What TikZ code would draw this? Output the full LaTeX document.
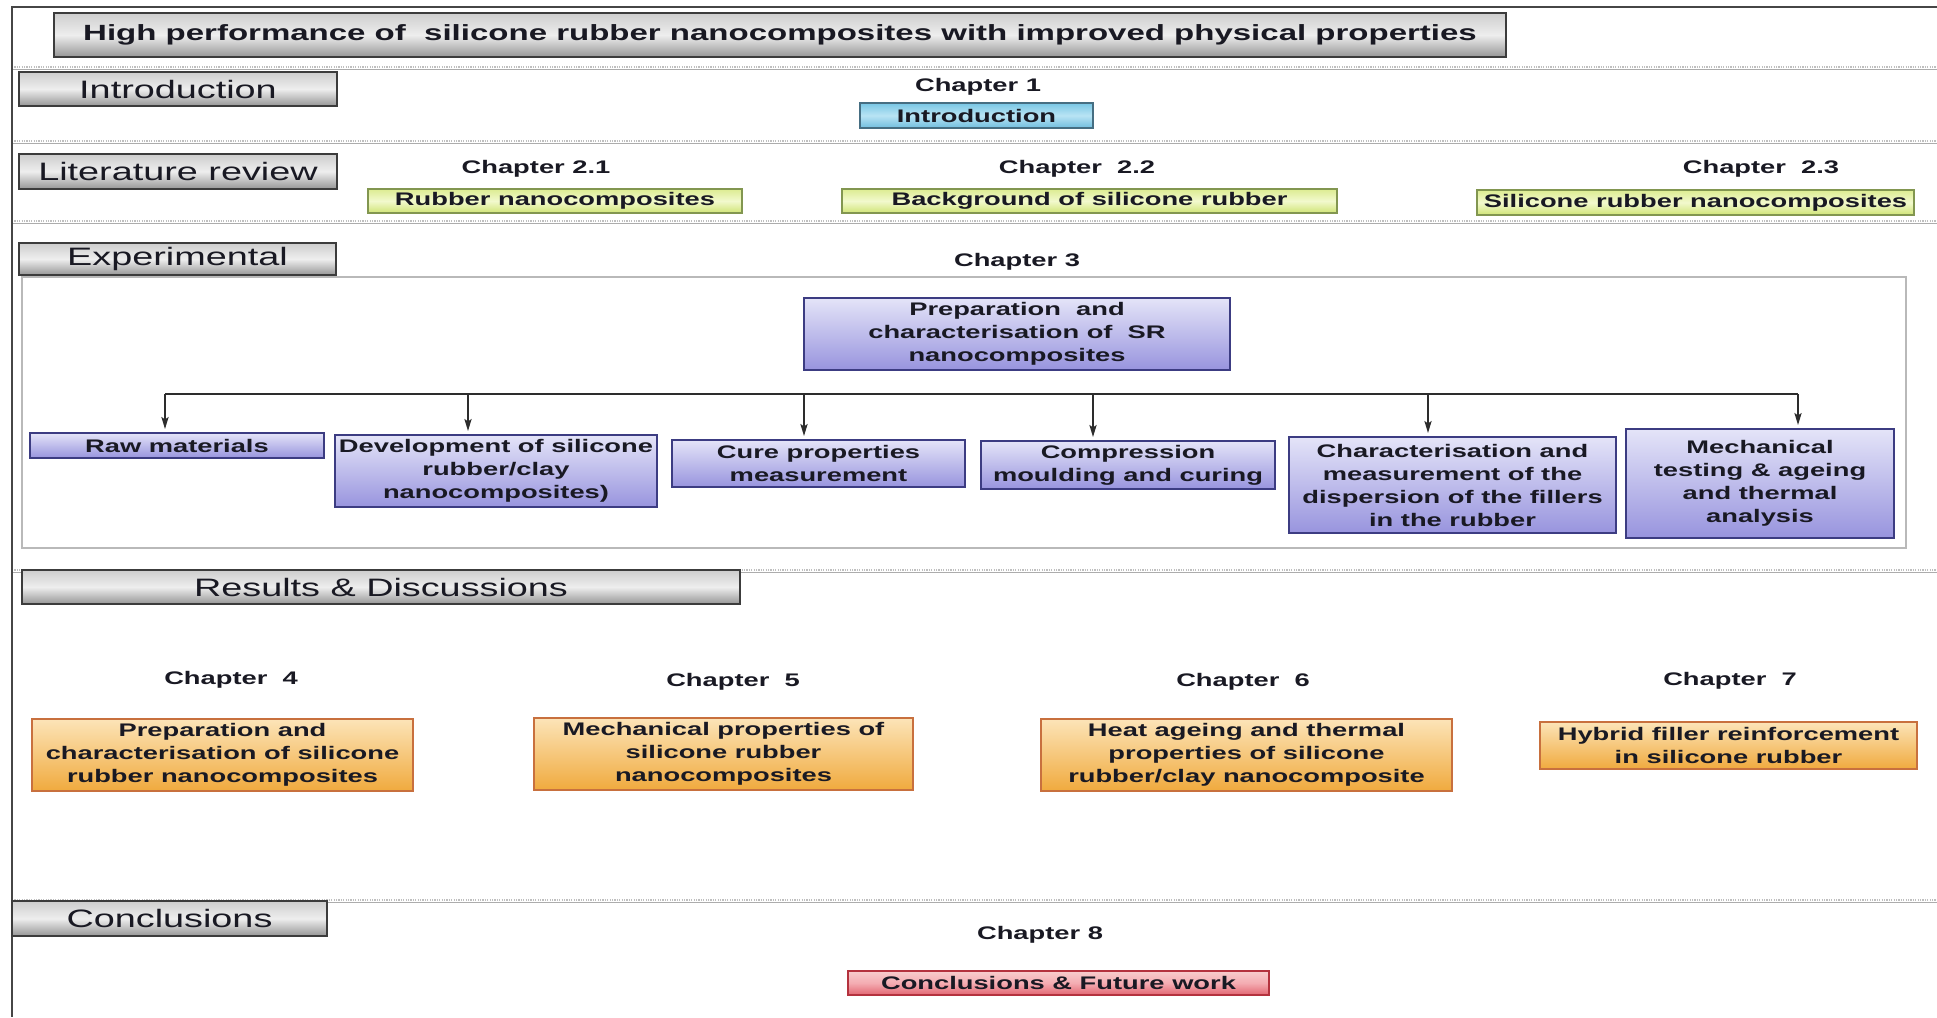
\documentclass[tikz,border=0pt]{standalone}
\usepackage{fontspec}
\setmainfont{Liberation Sans}[FakeStretch=1.5]
\usetikzlibrary{arrows.meta}
\definecolor{txt}{RGB}{25,25,35}
\definecolor{lblT}{RGB}{205,205,205}
\definecolor{lblM}{RGB}{238,238,238}
\definecolor{lblB}{RGB}{150,150,150}
\definecolor{lblD}{RGB}{60,60,60}
\definecolor{bluT}{RGB}{120,198,228}
\definecolor{bluM}{RGB}{185,228,244}
\definecolor{bluB}{RGB}{112,190,222}
\definecolor{bluD}{RGB}{70,110,130}
\definecolor{ylwT}{RGB}{220,236,145}
\definecolor{ylwM}{RGB}{242,249,205}
\definecolor{ylwB}{RGB}{208,228,118}
\definecolor{ylwD}{RGB}{130,150,80}
\definecolor{purT}{RGB}{228,228,248}
\definecolor{purB}{RGB}{152,148,222}
\definecolor{purD}{RGB}{60,60,130}
\definecolor{orgT}{RGB}{252,228,184}
\definecolor{orgB}{RGB}{240,170,62}
\definecolor{orgD}{RGB}{200,112,62}
\definecolor{redT}{RGB}{248,205,205}
\definecolor{redM}{RGB}{244,172,178}
\definecolor{redB}{RGB}{226,102,114}
\definecolor{redD}{RGB}{180,50,62}
\definecolor{arrC}{RGB}{45,45,45}
\definecolor{frmC}{RGB}{70,70,70}
\begin{document}
\begin{tikzpicture}[x=0.5pt,y=-0.5pt,
  sz/.style 2 args={minimum width=#1pt, minimum height=#2pt},
  bx/.style={inner sep=0pt, align=center, text=txt, line width=1pt, anchor=center},
  bf/.style={font=\fontsize{9.1}{11.5}\selectfont\bfseries},
  lblfont/.style={font=\fontsize{12.6}{15}\selectfont, text=txt},
  lbl/.style={bx, lblfont, draw=lblD, top color=lblT, bottom color=lblB, middle color=lblM},
  ttl/.style={bx, draw=lblD, top color=lblT, bottom color=lblB, middle color=lblM, font=\fontsize{11}{13}\selectfont\bfseries},
  blu/.style={bx, bf, draw=bluD, top color=bluT, bottom color=bluB, middle color=bluM},
  ylw/.style={bx, bf, draw=ylwD, top color=ylwT, bottom color=ylwB, middle color=ylwM},
  pur/.style={bx, bf, draw=purD, top color=purT, bottom color=purB},
  org/.style={bx, bf, draw=orgD, top color=orgT, bottom color=orgB},
  rdb/.style={bx, bf, draw=redD, top color=redT, bottom color=redB, middle color=redM},
  chap/.style={bf, text=txt, inner sep=0pt},
  arr/.style={draw=arrC, line width=0.75pt, shorten >=1.5pt, -{Stealth[length=6pt,width=3.6pt,inset=1.2pt]}}
]
\useasboundingbox (0,0) rectangle (1937,1017);
\fill[white] (0,0) rectangle (1937,1017);

% dotted separators
\foreach \yy in {67,141,221,570,900} {
  \draw[gray!50, line width=1.1pt, dash pattern=on 0.6pt off 0.6pt] (12,\yy) -- (1937,\yy);
  \draw[gray!65, line width=0.45pt] (12,\yy+2.5) -- (1937,\yy+2.5);
}
% outer frame
\draw[frmC, line width=1.2pt] (1937,7) -- (12,7) -- (12,1017);
% experimental frame
\draw[gray!55, line width=1pt] (22,277) rectangle (1906,548);

% title
\node[ttl, sz={726}{22}] (title) at (780,35) {High performance of~ silicone rubber nanocomposites with improved physical properties};

% Introduction
\node[lbl, sz={159}{17}] (lintro) at (178,89) {Introduction};
\node[chap] (c1) at (978,87) {Chapter 1};
\node[blu, sz={116.5}{12.5}] (intro) at (976.5,115.5) {Introduction};

% Literature review
\node[lbl, sz={159}{17.5}] (llit) at (178,171.5) {Literature review};
\node[chap] (c21) at (536,169) {Chapter 2.1};
\node[ylw, sz={187}{12}] (rn) at (555,201) {Rubber nanocomposites};
\node[chap] (c22) at (1077,169) {Chapter~ 2.2};
\node[ylw, sz={247.5}{12}] (bsr) at (1089.5,201) {Background of silicone rubber};
\node[chap] (c23) at (1761,169) {Chapter~ 2.3};
\node[ylw, sz={218.5}{12.5}] (srn) at (1695.5,202.5) {Silicone rubber nanocomposites};

% Experimental
\node[lbl, sz={158.5}{16}] (lexp) at (177.5,259) {Experimental};
\node[chap] (c3) at (1017,262) {Chapter 3};
\node[pur, sz={213}{36}] (prep) at (1017,334) {Preparation~ and\\characterisation of~ SR\\nanocomposites};

\node[pur, sz={147}{12.5}] (raw) at (177,445.5) {Raw materials};
\node[pur, sz={161}{36}] (dev) at (496,471) {Development of silicone\\rubber/clay\\nanocomposites)};
\node[pur, sz={146.5}{23.5}] (cure) at (818.5,463.5) {Cure properties\\measurement};
\node[pur, sz={147}{24}] (comp) at (1128,465) {Compression\\moulding and curing};
\node[pur, sz={163.5}{48}] (char) at (1452.5,485) {Characterisation and\\measurement of the\\dispersion of the fillers\\in the rubber};
\node[pur, sz={134}{54.5}] (mech) at (1760,483.5) {Mechanical\\testing \& ageing\\and thermal\\analysis};

\coordinate (a1) at (165,394);
\coordinate (a2) at (468,394);
\coordinate (a3) at (804,394);
\coordinate (a4) at (1093,394);
\coordinate (a5) at (1428,394);
\coordinate (a6) at (1798,394);
\draw[arrC, line width=0.75pt] (a1) -- (a6);
\draw[arr] (a1) -- (a1 |- raw.north);
\draw[arr] (a2) -- (a2 |- dev.north);
\draw[arr] (a3) -- (a3 |- cure.north);
\draw[arr] (a4) -- (a4 |- comp.north);
\draw[arr] (a5) -- (a5 |- char.north);
\draw[arr] (a6) -- (a6 |- mech.north);

% Results & Discussions
\node[lbl, sz={359}{17}] (lres) at (381,587) {Results \& Discussions};
\node[chap] (c4) at (231,680) {Chapter~ 4};
\node[org, sz={190.5}{36}] (ch4) at (222.5,755) {Preparation and\\characterisation of silicone\\rubber nanocomposites};
\node[chap] (c5) at (733,682) {Chapter~ 5};
\node[org, sz={189.5}{36}] (ch5) at (723.5,754) {Mechanical properties of\\silicone rubber\\nanocomposites};
\node[chap] (c6) at (1243,682) {Chapter~ 6};
\node[org, sz={205.5}{36}] (ch6) at (1246.5,755) {Heat ageing and thermal\\properties of silicone\\rubber/clay nanocomposite};
\node[chap] (c7) at (1730,681) {Chapter~ 7};
\node[org, sz={188.5}{23.5}] (ch7) at (1728.5,745.5) {Hybrid filler reinforcement\\in silicone rubber};

% Conclusions
\node[lbl, sz={157.5}{17.5}] (lcon) at (169.5,918.5) {Conclusions};
\node[chap] (c8) at (1040,935) {Chapter 8};
\node[rdb, sz={210.5}{12}] (ch8) at (1058.5,983) {Conclusions \& Future work};
\end{tikzpicture}
\end{document}
